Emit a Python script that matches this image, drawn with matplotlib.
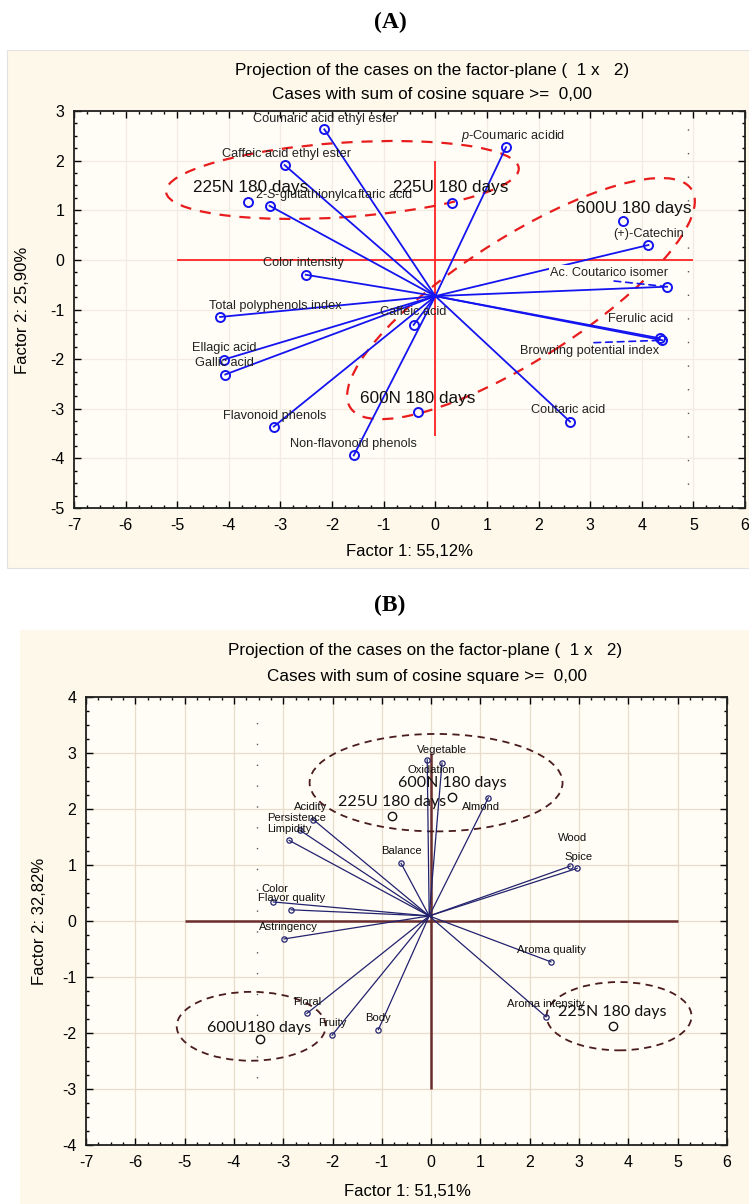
import matplotlib.pyplot as plt
from matplotlib.patches import Ellipse, Rectangle
from matplotlib.ticker import MultipleLocator

plt.rcParams['font.family'] = ['Liberation Sans', 'DejaVu Sans']
plt.rcParams['mathtext.fontset'] = 'custom'
plt.rcParams['mathtext.rm'] = 'Liberation Sans'
plt.rcParams['mathtext.it'] = 'Liberation Sans:italic'
plt.rcParams['axes.unicode_minus'] = False

# ---- panel A: phenolic compounds ----
a_vars = ["Coumaric acid ethyl ester", r"$\it{p}$-Coumaric acidid", "Caffeic acid ethyl ester",
          r"2-$\it{S}$-glutathionylcaftaric acid", "(+)-Catechin", "Color intensity",
          "Ac. Coutarico isomer", "Total polyphenols index", "Caffeic acid", "Ferulic acid",
          "Browning potential index", "Ellagic acid", "Gallic acid", "Flavonoid phenols",
          "Non-flavonoid phenols", "Coutaric acid"]
a_x = [-2.15, 1.37, -2.92, -3.21, 4.13, -2.51, 4.49, -4.17, -0.42, 4.35, 4.40, -4.10, -4.07, -3.13, -1.58, 2.61]
a_y = [2.63, 2.27, 1.91, 1.09, 0.30, -0.30, -0.54, -1.15, -1.31, -1.58, -1.62, -2.01, -2.31, -3.36, -3.94, -3.26]
a_groups = ["225N 180 days", "225U 180 days", "600U 180 days", "600N 180 days"]
a_gx = [-3.62, 0.32, 3.64, -0.34]
a_gy = [1.17, 1.15, 0.78, -3.06]

# label placement (data units)
a_lab_x = [-2.13, 1.50, -2.88, -1.97, 4.13, -2.55, 3.37, -3.10, -0.42, 3.97, 2.98, -4.09, -4.09, -3.12, -1.58, 2.57]
a_lab_y = [2.83, 2.50, 2.13, 1.31, 0.52, -0.06, -0.26, -0.92, -1.05, -1.19, -1.83, -1.77, -2.07, -3.14, -3.72, -3.02]
a_glab_x = [-3.58, 0.30, 3.84, -0.34]
a_glab_y = [1.45, 1.45, 1.03, -2.79]

# ---- panel B: sensory attributes ----
b_vars = ["Vegetable", "Oxidation", "Almond", "Acidity", "Persistence", "Limpidity", "Balance",
          "Wood", "Spice", "Color", "Flavor quality", "Astringency", "Aroma quality",
          "Aroma intensity", "Floral", "Fruity", "Body"]
b_x = [-0.08, 0.22, 1.16, -2.39, -2.66, -2.88, -0.61, 2.82, 2.96, -3.20, -2.84, -2.98, 2.43, 2.33, -2.52, -2.01, -1.07]
b_y = [2.88, 2.82, 2.20, 1.81, 1.62, 1.44, 1.03, 0.98, 0.94, 0.34, 0.20, -0.32, -0.73, -1.71, -1.65, -2.04, -1.94]
b_groups = ["600N 180 days", "225U 180 days", "225N 180 days", "600U180 days"]
b_gx = [0.43, -0.79, 3.69, -3.47]
b_gy = [2.22, 1.87, -1.88, -2.11]

b_lab_x = [0.22, 0.00, 1.01, -2.45, -2.72, -2.88, -0.61, 2.86, 2.98, -3.18, -2.84, -2.90, 2.43, 2.33, -2.52, -2.01, -1.07]
b_lab_y = [3.05, 2.69, 2.04, 2.04, 1.84, 1.64, 1.25, 1.48, 1.14, 0.57, 0.41, -0.11, -0.52, -1.49, -1.44, -1.82, -1.74]
b_glab_x = [0.43, -0.79, 3.67, -3.49]
b_glab_y = [2.46, 2.12, -1.63, -1.91]

# group ellipses: (cx, cy, width, height, angle)
a_ell = [(-1.80, 1.61, 6.85, 1.50, 4), (1.66, -0.78, 7.94, 2.44, 33.8)]
b_ell = [(0.10, 2.47, 5.13, 1.74, 0), (-3.65, -1.88, 3.02, 1.23, 0), (3.81, -1.70, 2.94, 1.22, 0)]

W, H = 749, 1204
fig = plt.figure(figsize=(W / 100, H / 100), dpi=100)


def fxy(x, y):
    return x / W, 1 - y / H


# panel backgrounds
fig.patches.append(Rectangle(fxy(7, 568), 742 / W, 518 / H, transform=fig.transFigure,
                             facecolor='#fdf8ea', edgecolor='#e2e2e2', lw=0.8, zorder=-10))
fig.patches.append(Rectangle(fxy(20, 1204), 729 / W, 574 / H, transform=fig.transFigure,
                             facecolor='#fdf8ea', edgecolor='none', zorder=-10))


def style_axes(ax, ylo, yhi, gridc):
    ax.set_xlim(-7, 6)
    ax.set_ylim(ylo, yhi)
    ax.set_facecolor('#fffdf6')
    ax.xaxis.set_major_locator(MultipleLocator(1))
    ax.yaxis.set_major_locator(MultipleLocator(1))
    ax.xaxis.set_minor_locator(MultipleLocator(0.25))
    ax.yaxis.set_minor_locator(MultipleLocator(0.25))
    ax.tick_params(which='both', direction='in', top=True, right=True, labelsize=11.5, pad=7)
    ax.tick_params(which='major', length=5, width=1)
    ax.tick_params(which='minor', length=2.5, width=1)
    ax.grid(True, which='major', color=gridc, lw=0.9)
    ax.set_axisbelow(True)
    for s in ax.spines.values():
        s.set_linewidth(1.3)
        s.set_color('#202020')


# ================= (A) =================
fig.text(*fxy(390, 22), "(A)", family='Liberation Serif', weight='bold', fontsize=17, ha='center', va='center')
fig.text(*fxy(432, 70), "Projection of the cases on the factor-plane (  1 x   2)", fontsize=12.3, ha='center', va='center')
fig.text(*fxy(432, 94), "Cases with sum of cosine square >=  0,00", fontsize=12.3, ha='center', va='center')

axA = fig.add_axes([74 / W, 1 - 508 / H, 671 / W, 397 / H])
style_axes(axA, -5, 3, '#f3ebe2')
axA.vlines(4.9, -5, 3, colors='#555555', lw=1.0, linestyles=(0, (1, 16)))

blue = '#1414f0'
red = '#ff2424'
axA.hlines(0, -5, 5, colors=red, lw=1.3, zorder=2)
axA.vlines(0, -3.55, 2, colors=red, lw=1.3, zorder=2)
for cx, cy, w, h, ang in a_ell:
    axA.add_patch(Ellipse((cx, cy), w, h, angle=ang, fill=False, ec='#e81c1c', lw=1.6,
                          ls=(0, (5, 4)), zorder=3))

oax, oay = 0.0, -0.73
for x, y in zip(a_x, a_y):
    axA.plot([oax, x], [oay, y], color=blue, lw=1.3, zorder=4)
axA.plot(a_x, a_y, 'o', mfc='none', mec=blue, ms=6.5, mew=1.4, zorder=5)
axA.plot(a_gx, a_gy, 'o', mfc='none', mec=blue, ms=6.5, mew=1.4, zorder=5)

for name, lx, ly in zip(a_vars, a_lab_x, a_lab_y):
    kw = {}
    if name.startswith("Ac."):
        kw['bbox'] = dict(boxstyle='square,pad=0.1', fc='#fffdf6', ec='none')
    axA.text(lx, ly, name, fontsize=9.2, color='#222222', ha='center', va='center', zorder=6, **kw)
for name, lx, ly in zip(a_groups, a_glab_x, a_glab_y):
    axA.text(lx, ly, name, fontsize=12.3, color='#111111', ha='center', va='center', zorder=6)

# dashed leaders for the crowded labels
axA.annotate("", xy=(a_x[6], a_y[6]), xytext=(3.41, -0.42),
             arrowprops=dict(arrowstyle='-', color=blue, lw=1.2, ls=(0, (4, 3))), zorder=6)
axA.annotate("", xy=(a_x[10], a_y[10]), xytext=(3.02, -1.67),
             arrowprops=dict(arrowstyle='-', color=blue, lw=1.2, ls=(0, (4, 3))), zorder=6)

fig.text(*fxy(410, 552), "Factor 1: 55,12%", fontsize=12, ha='center', va='center')
fig.text(*fxy(23, 310), "Factor 2: 25,90%", fontsize=12, ha='center', va='center', rotation=90)

# ================= (B) =================
fig.text(*fxy(390, 605), "(B)", family='Liberation Serif', weight='bold', fontsize=17, ha='center', va='center')
fig.text(*fxy(425, 650), "Projection of the cases on the factor-plane (  1 x   2)", fontsize=12.3, ha='center', va='center')
fig.text(*fxy(427, 676), "Cases with sum of cosine square >=  0,00", fontsize=12.3, ha='center', va='center')

axB = fig.add_axes([86 / W, 1 - 1145 / H, 641 / W, 448 / H])
style_axes(axB, -4, 4, '#e8dccb')
axB.vlines(-3.53, -2.8, 3.6, colors='#555555', lw=1.0, linestyles=(0, (1, 14)))

navy = '#22226e'
brown = '#6a2c2c'
axB.hlines(0, -5, 5, colors=brown, lw=1.8, zorder=2)
axB.vlines(0, -3, 3, colors=brown, lw=1.8, zorder=2)
for cx, cy, w, h, ang in b_ell:
    axB.add_patch(Ellipse((cx, cy), w, h, angle=ang, fill=False, ec='#4a1c1c', lw=1.3,
                          ls=(0, (4, 3)), zorder=3))

obx, oby = -0.04, 0.09
for x, y in zip(b_x, b_y):
    axB.plot([obx, x], [oby, y], color=navy, lw=0.9, zorder=4)
axB.plot(b_x, b_y, 'o', mfc='none', mec=navy, ms=3.8, mew=0.9, zorder=5)
axB.plot(b_gx, b_gy, 'o', mfc='none', mec='#111111', ms=6, mew=1.0, zorder=5)

for name, lx, ly in zip(b_vars, b_lab_x, b_lab_y):
    axB.text(lx, ly, name, fontsize=8.1, color='#111111', ha='center', va='center', zorder=6)
for name, lx, ly in zip(b_groups, b_glab_x, b_glab_y):
    axB.text(lx, ly, name, family='Lato', fontsize=11.5, color='#111111', ha='center', va='center', zorder=6)

fig.text(*fxy(407, 1192), "Factor 1: 51,51%", fontsize=12, ha='center', va='center')
fig.text(*fxy(40, 921), "Factor 2: 32,82%", fontsize=12, ha='center', va='center', rotation=90)

fig.savefig("out.png", dpi=100)
